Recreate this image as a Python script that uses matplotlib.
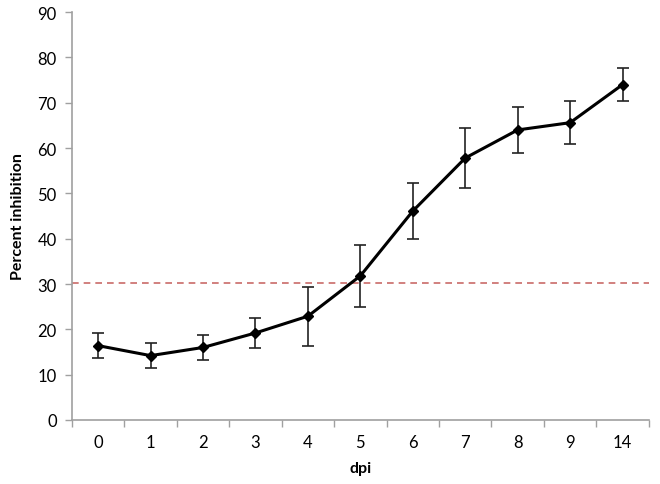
import matplotlib
matplotlib.use('Agg')
import matplotlib.pyplot as plt
import numpy as np

dpi_labels = ['0', '1', '2', '3', '4', '5', '6', '7', '8', '9', '14']
inhibition = [16.4, 14.2, 16.0, 19.2, 22.9, 31.8, 46.1, 57.8, 64.0, 65.6, 74.0]
errors = [2.8, 2.7, 2.7, 3.3, 6.5, 6.9, 6.2, 6.7, 5.0, 4.8, 3.6]
threshold = 30.3

plt.rcParams['font.family'] = ['Lato', 'DejaVu Sans']

fig = plt.figure(figsize=(6.6, 4.85), dpi=100)
ax = fig.add_axes([0.109, 0.132, 0.874, 0.841])

x = np.arange(len(dpi_labels))
ax.axhline(threshold, color='#C0504D', lw=1.2, ls=(0, (4, 3)), alpha=0.85, zorder=1)
ax.errorbar(x, inhibition, yerr=errors, color='black', lw=2.2, marker='D',
            markersize=5.5, ecolor='#222222', elinewidth=1.2, capsize=4,
            capthick=1.2, zorder=3)

ax.set_xlim(-0.5, len(dpi_labels) - 0.5)
ax.set_ylim(0, 90)
ax.set_yticks(np.arange(0, 91, 10))
ax.set_xticks(x)
ax.set_xticklabels(dpi_labels)
ax.set_xticks(np.arange(-0.5, len(dpi_labels), 1), minor=True)
ax.tick_params(axis='x', which='major', length=0, pad=10, labelsize=12)
ax.tick_params(axis='x', which='minor', length=5, color='#A0A0A0', width=1)
ax.tick_params(axis='y', length=5, color='#A0A0A0', width=1, labelsize=12, pad=6)

for side in ['top', 'right']:
    ax.spines[side].set_visible(False)
for side in ['left', 'bottom']:
    ax.spines[side].set_color('#A0A0A0')
    ax.spines[side].set_linewidth(1.2)

ax.set_xlabel('dpi', fontweight='bold', fontsize=11.5, labelpad=8)
ax.set_ylabel('Percent inhibition', fontweight='bold', fontsize=11.5, labelpad=9)

plt.savefig('out.png')
